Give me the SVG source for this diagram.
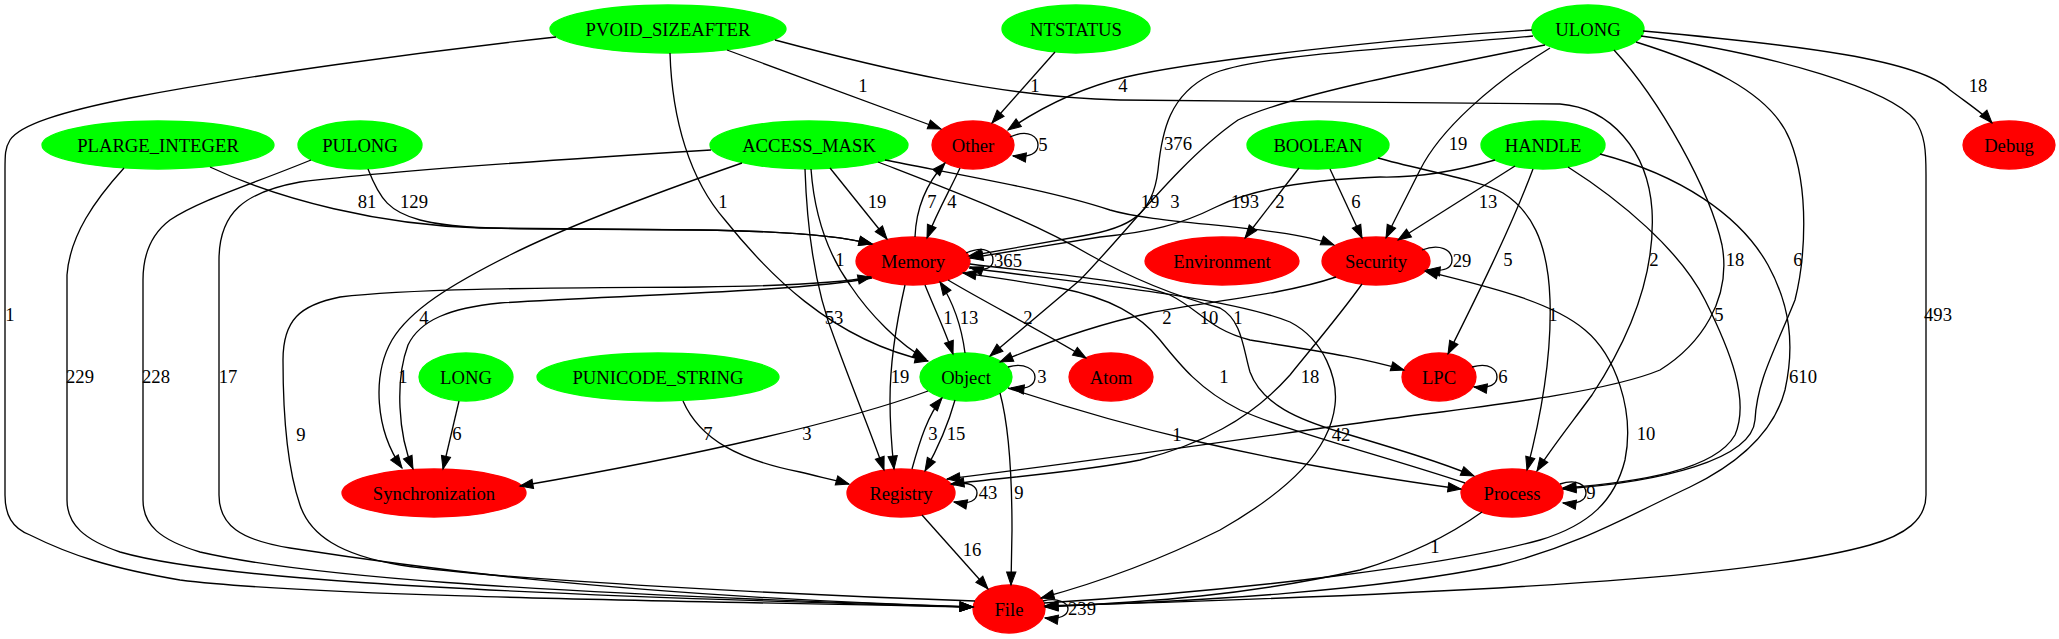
<svg xmlns="http://www.w3.org/2000/svg" width="2059" height="639" viewBox="0 0 2059 639">
<style>
text{font-family:"Liberation Serif","Times New Roman",serif;font-size:18.67px;fill:#000;text-anchor:middle}
.src ellipse{fill:#00ff00;stroke:#00ff00;stroke-width:1.33}
.cat ellipse{fill:#ff0000;stroke:#ff0000;stroke-width:1.33}
#edges path{fill:none;stroke:#000;stroke-width:1.33;marker-end:url(#ah)}
</style>
<defs>
<marker id="ah" markerUnits="userSpaceOnUse" markerWidth="14" markerHeight="10" refX="13" refY="4.67" orient="auto" overflow="visible">
<path d="M0,0 L13,4.67 L0,9.33 Z" fill="#000" stroke="#000" stroke-width="1"/>
</marker>
</defs>
<rect width="2059" height="639" fill="#fff"/>
<g id="n-PVOID_SIZEAFTER" class="src"><ellipse cx="668" cy="29" rx="118" ry="24"/><text x="668" y="35.5">PVOID_SIZEAFTER</text></g>
<g id="n-NTSTATUS" class="src"><ellipse cx="1076" cy="29" rx="74" ry="24"/><text x="1076" y="35.5">NTSTATUS</text></g>
<g id="n-ULONG" class="src"><ellipse cx="1588" cy="29" rx="56" ry="24"/><text x="1588" y="35.5">ULONG</text></g>
<g id="n-PLARGE_INTEGER" class="src"><ellipse cx="158" cy="145" rx="116" ry="24"/><text x="158" y="151.5">PLARGE_INTEGER</text></g>
<g id="n-PULONG" class="src"><ellipse cx="360" cy="145" rx="62" ry="24"/><text x="360" y="151.5">PULONG</text></g>
<g id="n-ACCESS_MASK" class="src"><ellipse cx="809" cy="145" rx="99" ry="24"/><text x="809" y="151.5">ACCESS_MASK</text></g>
<g id="n-Other" class="cat"><ellipse cx="973" cy="145" rx="41" ry="24"/><text x="973" y="151.5">Other</text></g>
<g id="n-BOOLEAN" class="src"><ellipse cx="1318" cy="145" rx="71" ry="24"/><text x="1318" y="151.5">BOOLEAN</text></g>
<g id="n-HANDLE" class="src"><ellipse cx="1543" cy="145" rx="62" ry="24"/><text x="1543" y="151.5">HANDLE</text></g>
<g id="n-Debug" class="cat"><ellipse cx="2009" cy="145" rx="46" ry="24"/><text x="2009" y="151.5">Debug</text></g>
<g id="n-Memory" class="cat"><ellipse cx="913" cy="261" rx="57" ry="24"/><text x="913" y="267.5">Memory</text></g>
<g id="n-Environment" class="cat"><ellipse cx="1222" cy="261" rx="77" ry="24"/><text x="1222" y="267.5">Environment</text></g>
<g id="n-Security" class="cat"><ellipse cx="1376" cy="261" rx="54" ry="24"/><text x="1376" y="267.5">Security</text></g>
<g id="n-LONG" class="src"><ellipse cx="466" cy="377" rx="47" ry="24"/><text x="466" y="383.5">LONG</text></g>
<g id="n-PUNICODE_STRING" class="src"><ellipse cx="658" cy="377" rx="121" ry="24"/><text x="658" y="383.5">PUNICODE_STRING</text></g>
<g id="n-Object" class="src"><ellipse cx="966" cy="377" rx="46" ry="24"/><text x="966" y="383.5">Object</text></g>
<g id="n-Atom" class="cat"><ellipse cx="1111" cy="377" rx="42" ry="24"/><text x="1111" y="383.5">Atom</text></g>
<g id="n-LPC" class="cat"><ellipse cx="1439" cy="377" rx="37" ry="24"/><text x="1439" y="383.5">LPC</text></g>
<g id="n-Synchronization" class="cat"><ellipse cx="434" cy="493" rx="92" ry="24"/><text x="434" y="499.5">Synchronization</text></g>
<g id="n-Registry" class="cat"><ellipse cx="901" cy="493" rx="54" ry="24"/><text x="901" y="499.5">Registry</text></g>
<g id="n-Process" class="cat"><ellipse cx="1512" cy="493" rx="51" ry="24"/><text x="1512" y="499.5">Process</text></g>
<g id="n-File" class="cat"><ellipse cx="1009" cy="609" rx="36" ry="24"/><text x="1009" y="615.5">File</text></g>
<g id="edges">
<path d="M556,37 C420,52 250,75 130,98 C60,112 20,125 10,140 C5,148 5,155 5,170 L5,495 C5,515 12,528 30,535 C70,555 110,568 180,580 C300,595 600,600 973,607"/>
<path d="M727,50 L941,129"/>
<path d="M670,53 C672,120 690,180 725,220 C765,270 830,340 928,361"/>
<path d="M775,40 C880,68 1000,97 1120,100 L1560,104 C1610,108 1648,150 1652,210 C1656,280 1625,345 1592,395 C1570,425 1550,450 1537,471"/>
<path d="M1055,52 L992,123"/>
<path d="M1532,30 C1400,38 1200,60 1126,77 C1080,88 1040,108 1008,130"/>
<path d="M1533,36 C1400,48 1250,55 1210,75 C1170,95 1162,130 1158,170 C1153,215 1130,228 1082,236 L969,256"/>
<path d="M1545,45 C1420,70 1290,95 1238,120 C1180,160 1126,233 1080,280 L990,356"/>
<path d="M1550,48 C1490,85 1440,130 1420,170 C1400,210 1392,225 1386,238"/>
<path d="M1643,31 C1800,45 1920,60 1950,90 C1970,105 1985,115 1992,123"/>
<path d="M1614,50 C1660,100 1710,190 1722,245 C1732,300 1700,345 1660,370 C1600,395 1450,410 1380,420 C1250,438 1100,460 947,479"/>
<path d="M1636,42 C1700,62 1770,90 1790,140 C1810,190 1805,260 1795,300 C1775,350 1757,380 1755,420 C1752,460 1660,482 1563,489"/>
<path d="M1641,36 C1780,55 1890,90 1915,120 C1925,135 1926,150 1926,175 L1926,495 C1926,520 1905,535 1870,545 C1780,570 1600,590 1045,606"/>
<path d="M210,167 C280,200 380,225 480,228 L700,230 C780,231 840,236 872,244"/>
<path d="M368,169 C380,200 390,212 420,220 C450,228 500,229 560,229 L700,230 C780,231 840,236 872,244"/>
<path d="M124,168 C95,200 70,235 67,275 L67,500 C67,525 85,540 120,552 C200,575 400,592 973,607"/>
<path d="M311,160 C250,185 200,200 170,220 C150,235 143,255 143,280 L143,500 C143,525 160,540 200,552 C300,575 500,592 973,607"/>
<path d="M711,150 C550,160 380,172 300,182 C245,192 219,212 219,260 L219,495 C219,525 240,540 290,548 C400,565 600,595 973,607"/>
<path d="M830,168 L887,239"/>
<path d="M885,160 C960,175 1050,190 1110,210 C1160,225 1280,225 1334,245"/>
<path d="M878,162 C950,190 1030,220 1090,255 C1140,283 1190,300 1220,308 C1242,320 1243,348 1250,372 C1262,405 1300,420 1340,432 C1400,450 1440,462 1474,476"/>
<path d="M811,169 C814,210 825,250 850,285 C870,315 900,345 926,359"/>
<path d="M805,169 C807,230 815,290 835,340 C855,395 870,430 884,470"/>
<path d="M742,163 C650,195 560,230 510,255 C450,285 410,310 392,340 C372,375 375,430 402,468"/>
<path d="M872,278 C800,292 600,296 500,303 C450,308 420,320 408,345 C395,380 398,435 413,469"/>
<path d="M975,601 C800,595 500,580 400,565 C340,555 310,535 300,505 C288,470 283,420 283,360 C283,320 300,305 340,297 C420,287 600,288 700,287 C790,286 840,283 871,277"/>
<path d="M915,237 C916,210 925,185 945,163"/>
<path d="M960,168 C950,190 938,210 927,238"/>
<path d="M925,285 C935,310 945,330 953,354"/>
<path d="M965,353 C962,330 955,305 940,282"/>
<path d="M948,280 C990,305 1040,330 1086,358"/>
<path d="M905,285 C897,320 890,360 890,400 C890,430 892,450 894,469"/>
<path d="M970,264 C1050,274 1130,280 1170,295 C1200,310 1210,330 1250,340 C1310,350 1360,357 1404,370"/>
<path d="M969,268 C1100,285 1230,298 1290,322 C1325,340 1338,380 1335,405 C1330,450 1290,490 1220,530 C1160,560 1100,582 1041,598"/>
<path d="M1465,483 C1380,455 1290,432 1240,410 C1200,390 1180,365 1160,340 C1140,315 1110,298 1060,288 C1020,281 990,277 963,273"/>
<path d="M1008,388 C1120,425 1250,460 1461,489"/>
<path d="M1336,277 C1280,296 1200,302 1150,313 C1090,326 1040,345 1000,362"/>
<path d="M1362,284 C1340,315 1310,350 1290,375 C1250,420 1200,445 1140,460 C1080,472 1000,478 951,484"/>
<path d="M1044,603 C1250,590 1450,565 1540,540 C1590,525 1615,500 1625,460 C1635,410 1615,355 1585,330 C1550,300 1480,285 1425,271"/>
<path d="M1495,160 C1460,170 1420,178 1380,177 C1300,180 1250,190 1216,207 C1180,225 1150,232 1100,237 L970,258"/>
<path d="M1299,168 L1245,238"/>
<path d="M1330,169 L1362,238"/>
<path d="M1515,166 L1398,240"/>
<path d="M1533,169 C1510,230 1475,300 1448,354"/>
<path d="M1568,167 C1620,200 1680,250 1705,300 C1730,350 1750,400 1735,435 C1715,470 1640,482 1563,488"/>
<path d="M1600,154 C1680,175 1740,215 1768,265 C1790,305 1795,345 1785,390 C1772,440 1725,470 1690,487 C1630,515 1580,545 1500,565 C1380,590 1200,602 1045,606"/>
<path d="M1378,158 C1420,170 1480,180 1503,193 C1530,210 1548,240 1550,300 C1552,360 1540,420 1527,470"/>
<path d="M1482,512 C1450,535 1410,555 1360,570 C1250,595 1150,602 1045,607"/>
<path d="M922,515 L988,589"/>
<path d="M1000,393 C1010,430 1012,480 1012,530 L1011,585"/>
<path d="M912,469 C920,440 928,415 942,398"/>
<path d="M955,400 C948,425 938,448 925,471"/>
<path d="M928,391 C850,420 700,455 520,486"/>
<path d="M683,401 C700,440 740,460 800,472 C820,477 835,480 849,484"/>
<path d="M459,401 L443,469"/>
<path d="M1010,137 C1030,128 1038,138 1038,145 C1038,153 1030,158 1013,156"/>
<path d="M966,253 C985,245 993,252 993,260 C993,268 985,272 970,267"/>
<path d="M1422,250 C1440,243 1452,250 1452,260 C1452,268 1445,272 1427,270"/>
<path d="M1008,367 C1025,362 1035,370 1035,377 C1035,385 1028,390 1011,388"/>
<path d="M953,485 C970,480 977,487 977,493 C977,500 970,505 954,502"/>
<path d="M1472,367 C1490,362 1497,370 1497,377 C1497,384 1490,389 1474,387"/>
<path d="M1560,484 C1578,478 1586,486 1586,493 C1586,500 1578,505 1563,503"/>
<path d="M1043,601 C1058,597 1068,603 1068,609 C1068,615 1060,620 1045,618"/>
</g>
<g id="edge-labels">
<text x="10" y="321">1</text>
<text x="863" y="92">1</text>
<text x="723" y="208">1</text>
<text x="1654" y="266">2</text>
<text x="1035" y="92">1</text>
<text x="1123" y="92">4</text>
<text x="1178" y="150">376</text>
<text x="1175" y="208">3</text>
<text x="1458" y="150">19</text>
<text x="1978" y="92">18</text>
<text x="1735" y="266">18</text>
<text x="1798" y="266">6</text>
<text x="1938" y="321">493</text>
<text x="367" y="208">81</text>
<text x="414" y="208">129</text>
<text x="80" y="383">229</text>
<text x="156" y="383">228</text>
<text x="228" y="383">17</text>
<text x="877" y="208">19</text>
<text x="1150" y="208">19</text>
<text x="1238" y="324">1</text>
<text x="840" y="266">1</text>
<text x="834" y="324">53</text>
<text x="424" y="324">4</text>
<text x="403" y="383">1</text>
<text x="301" y="441">9</text>
<text x="932" y="208">7</text>
<text x="952" y="208">4</text>
<text x="948" y="324">1</text>
<text x="969" y="324">13</text>
<text x="1028" y="324">2</text>
<text x="900" y="383">19</text>
<text x="1209" y="324">10</text>
<text x="1341" y="441">42</text>
<text x="1224" y="383">1</text>
<text x="1177" y="441">1</text>
<text x="1167" y="324">2</text>
<text x="1310" y="383">18</text>
<text x="1646" y="440">10</text>
<text x="1245" y="208">193</text>
<text x="1280" y="208">2</text>
<text x="1356" y="208">6</text>
<text x="1488" y="208">13</text>
<text x="1508" y="266">5</text>
<text x="1719" y="321">5</text>
<text x="1803" y="383">610</text>
<text x="1553" y="321">1</text>
<text x="1435" y="553">1</text>
<text x="972" y="556">16</text>
<text x="1019" y="499">9</text>
<text x="933" y="440">3</text>
<text x="956" y="440">15</text>
<text x="807" y="440">3</text>
<text x="708" y="440">7</text>
<text x="457" y="440">6</text>
<text x="1043" y="151">5</text>
<text x="1008" y="267">365</text>
<text x="1462" y="267">29</text>
<text x="1042" y="383">3</text>
<text x="988" y="499">43</text>
<text x="1503" y="383">6</text>
<text x="1591" y="499">9</text>
<text x="1082" y="615">239</text>
</g>
</svg>
